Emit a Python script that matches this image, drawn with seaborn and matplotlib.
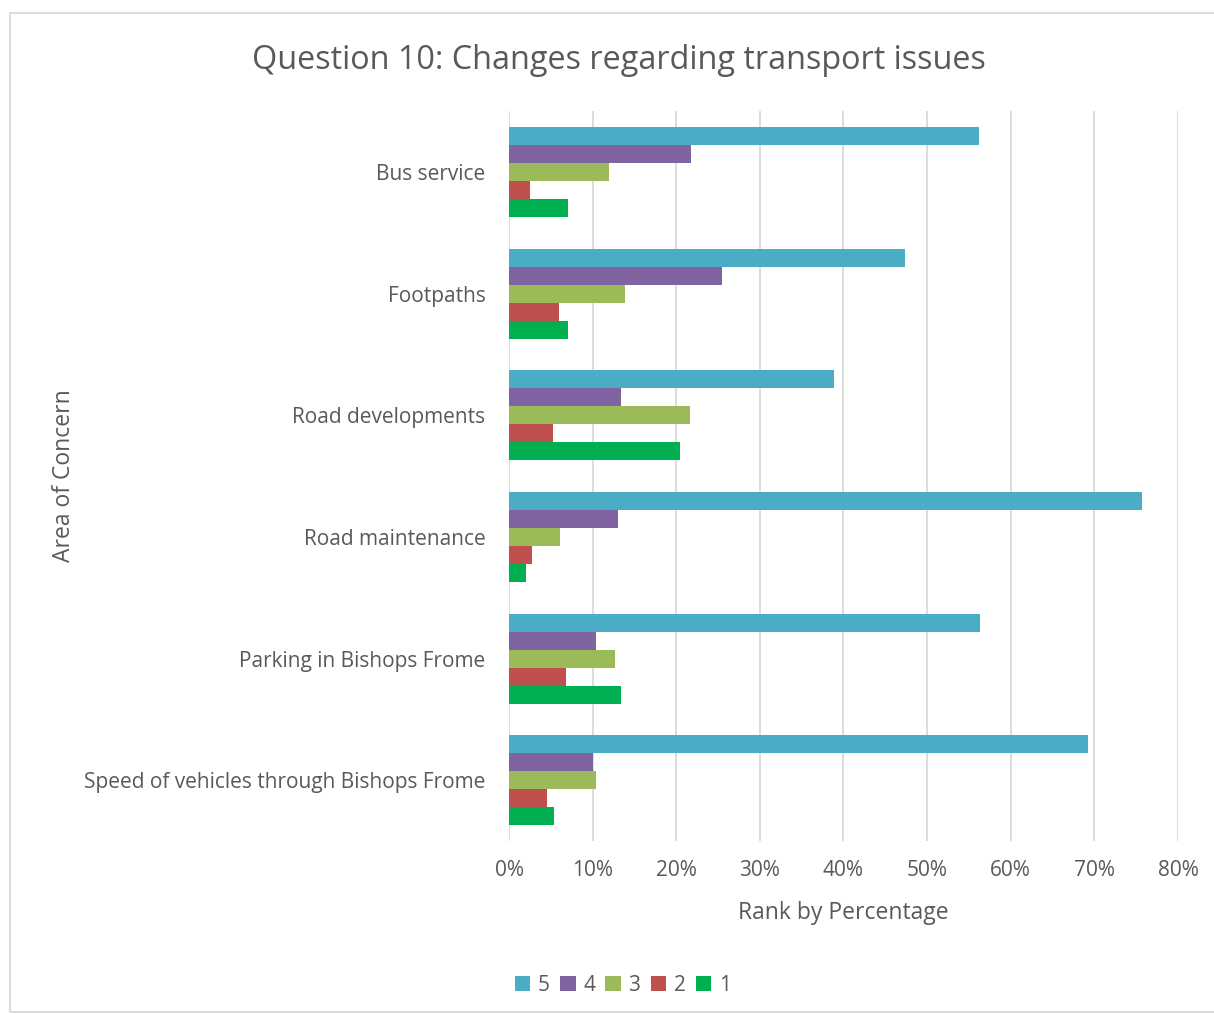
import matplotlib
matplotlib.use("Agg")
import matplotlib.pyplot as plt
import seaborn as sns
import pandas as pd
from matplotlib.patches import Rectangle
from matplotlib.ticker import PercentFormatter

categories = [
    "Bus service",
    "Footpaths",
    "Road developments",
    "Road maintenance",
    "Parking in Bishops Frome",
    "Speed of vehicles through Bishops Frome",
]
ranks = ["5", "4", "3", "2", "1"]
rank5 = [56.2, 47.4, 38.9, 75.7, 56.3, 69.3]
rank4 = [21.8, 25.5, 13.4, 13.0, 10.4, 10.0]
rank3 = [12.0, 13.9, 21.7, 6.1, 12.7, 10.4]
rank2 = [2.5, 6.0, 5.3, 2.8, 6.8, 4.5]
rank1 = [7.1, 7.1, 20.5, 2.0, 13.4, 5.4]
colors = ["#4BACC6", "#8064A2", "#9BBB59", "#C0504D", "#00B050"]

rows = []
for r, vals in zip(ranks, [rank5, rank4, rank3, rank2, rank1]):
    for c, v in zip(categories, vals):
        rows.append({"Area": c, "Rank": r, "Pct": v})
df = pd.DataFrame(rows)

sns.set_theme(style="white")
plt.rcParams["font.family"] = ["Open Sans", "DejaVu Sans"]
text_color = "#595959"

fig = plt.figure(figsize=(12.14, 10.14), dpi=100)
ax = fig.add_axes([0.4193, 0.1706, 0.5510, 0.7199])

sns.barplot(data=df, y="Area", x="Pct", hue="Rank", order=categories,
            hue_order=ranks, palette=colors, orient="h", width=0.74,
            saturation=1, linewidth=0, ax=ax, legend=True)

ax.set_xlim(0, 80)
ax.set_xticks(range(0, 81, 10))
ax.xaxis.set_major_formatter(PercentFormatter(decimals=0))
ax.grid(axis="x", color="#D9D9D9", linewidth=1.3)
ax.set_axisbelow(True)
for s in ax.spines.values():
    s.set_visible(False)
ax.tick_params(axis="both", length=0, colors=text_color, labelsize=15)
ax.tick_params(axis="y", pad=17)
ax.tick_params(axis="x", pad=14)
ax.set_xlabel("Rank by Percentage", color=text_color, fontsize=16.5)
ax.set_ylabel("Area of Concern", color=text_color, fontsize=16.5)
ax.yaxis.set_label_coords(-0.647, 0.5)
ax.xaxis.set_label_coords(0.5, -0.082)

fig.suptitle("Question 10: Changes regarding transport issues", x=0.510, y=0.957,
             color=text_color, fontsize=23.3)

handles, labels = ax.get_legend_handles_labels()
ax.legend_.remove()
fig.legend(handles, labels, loc="center", bbox_to_anchor=(0.513, 0.028),
           ncol=5, frameon=False, fontsize=15, handlelength=0.75,
           handleheight=0.75, handletextpad=0.35, columnspacing=0.5,
           labelcolor=text_color)

fig.patches.append(Rectangle((10 / 1214, 1 - 1012 / 1014), 1.2, (1012 - 13) / 1014,
                             transform=fig.transFigure, fill=False,
                             edgecolor="#D9D9D9", linewidth=1.3))

fig.savefig("out.png", dpi=100, facecolor="white")
